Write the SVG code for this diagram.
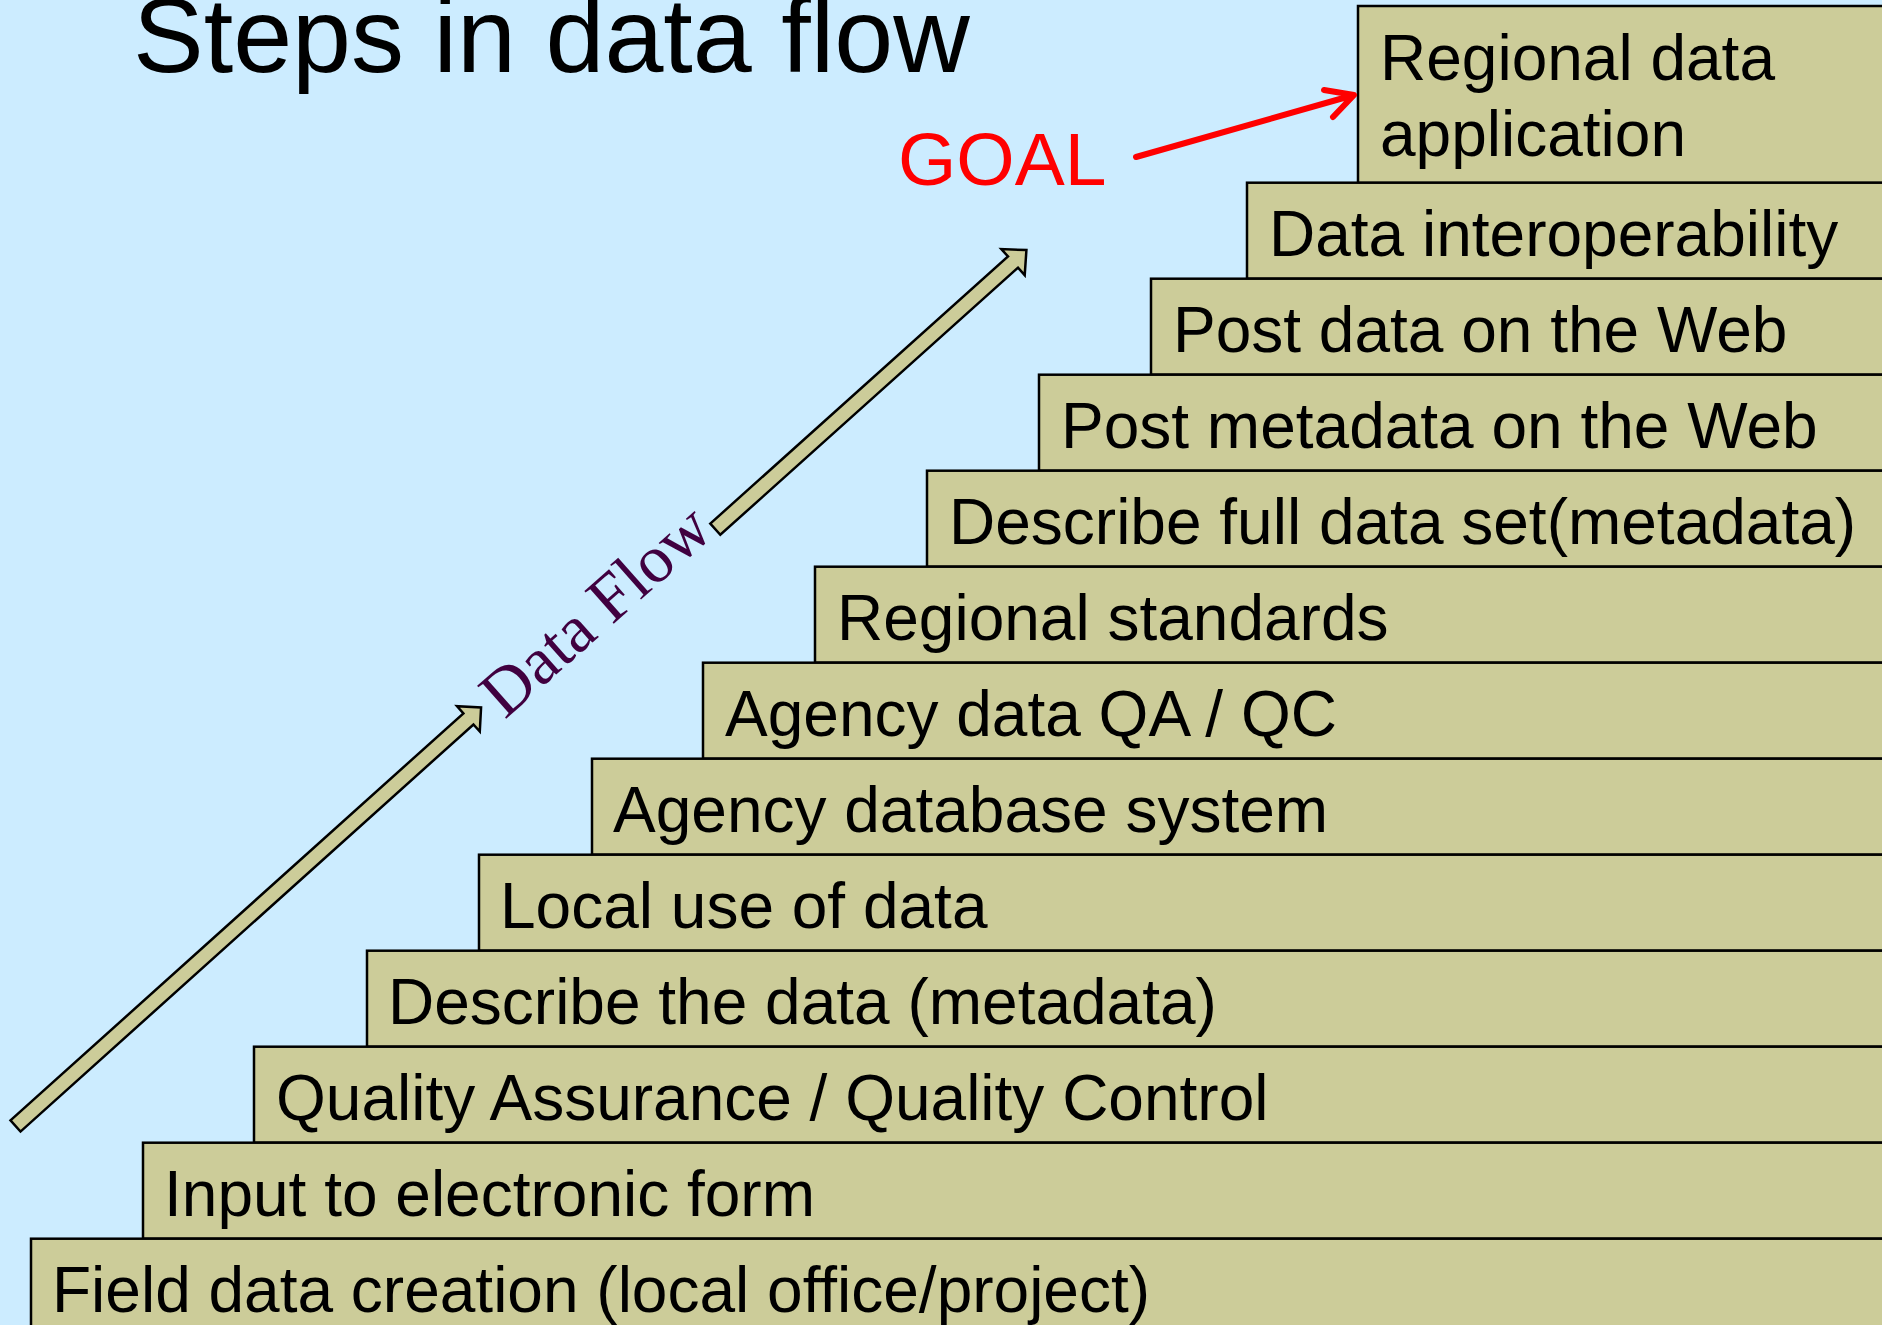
<svg xmlns="http://www.w3.org/2000/svg" width="1882" height="1325" viewBox="0 0 1882 1325">
<style>
.step{fill:#CCCC99;stroke:#000;stroke-width:2.5}
.lbl{font-family:"Liberation Sans",Arial,sans-serif;font-size:64px;fill:#000}
.blk{fill:#CCCC99;stroke:#000;stroke-width:2.5;stroke-linejoin:miter}
</style>
<rect x="0" y="0" width="1882" height="1325" fill="#CCECFF"/>
<text x="133" y="72" font-family="'Liberation Sans',Arial,sans-serif" font-size="106" fill="#000">Steps in data flow</text>
<g id="step-regional-app"><rect class="step" x="1358" y="6" width="560" height="177"/><text class="lbl" x="1380" y="80">Regional data</text><text class="lbl" x="1380" y="156">application</text></g>
<g id="step-interop"><rect class="step" x="1247" y="182.7" width="700" height="96"/><text class="lbl" x="1269" y="256">Data interoperability</text></g>
<g id="step-post-data"><rect class="step" x="1151" y="278.7" width="800" height="96"/><text class="lbl" x="1173" y="352">Post data on the Web</text></g>
<g id="step-post-meta"><rect class="step" x="1039" y="374.7" width="900" height="96"/><text class="lbl" x="1061" y="448">Post metadata on the Web</text></g>
<g id="step-describe-full"><rect class="step" x="927" y="470.7" width="1000" height="96"/><text class="lbl" x="949" y="544">Describe full data set(metadata)</text></g>
<g id="step-regional-std"><rect class="step" x="815" y="566.7" width="1100" height="96"/><text class="lbl" x="837" y="640">Regional standards</text></g>
<g id="step-agency-qa"><rect class="step" x="703" y="662.7" width="1200" height="96"/><text class="lbl" x="725" y="736">Agency data QA / QC</text></g>
<g id="step-agency-db"><rect class="step" x="592" y="758.7" width="1300" height="96"/><text class="lbl" x="613" y="832">Agency database system</text></g>
<g id="step-local-use"><rect class="step" x="479" y="854.7" width="1450" height="96"/><text class="lbl" x="500" y="928">Local use of data</text></g>
<g id="step-describe"><rect class="step" x="367" y="950.7" width="1550" height="96"/><text class="lbl" x="388" y="1024">Describe the data (metadata)</text></g>
<g id="step-qaqc"><rect class="step" x="254" y="1046.7" width="1650" height="96"/><text class="lbl" x="276" y="1120">Quality Assurance / Quality Control</text></g>
<g id="step-input"><rect class="step" x="143" y="1142.7" width="1800" height="96"/><text class="lbl" x="164" y="1216">Input to electronic form</text></g>
<g id="step-field"><rect class="step" x="31" y="1238.7" width="1900" height="120"/><text class="lbl" x="52" y="1312">Field data creation (local office/project)</text></g>
<g id="connectors">
<polygon class="blk" transform="translate(15.5,1126) rotate(-41.95)" points="0,-7.5 609,-7.5 609,-17 626,0 609,17 609,7.5 0,7.5"/>
<polygon class="blk" transform="translate(715.3,529.2) rotate(-41.9)" points="0,-7.5 400,-7.5 400,-17.5 418,0 400,17.5 400,7.5 0,7.5"/>
<path d="M1136,157 L1354,95 M1324,90 L1354,95 L1333,117" fill="none" stroke="#FF0000" stroke-width="6" stroke-linecap="round" stroke-linejoin="round"/>
</g>
<text x="898" y="185" font-family="'Liberation Sans',Arial,sans-serif" font-size="75" fill="#FF0000">GOAL</text>
<text x="0" y="0" transform="translate(610,627) rotate(-41.5)" text-anchor="middle" font-family="'Liberation Serif','Times New Roman',serif" font-size="67" fill="#400040">Data Flow</text>
</svg>
